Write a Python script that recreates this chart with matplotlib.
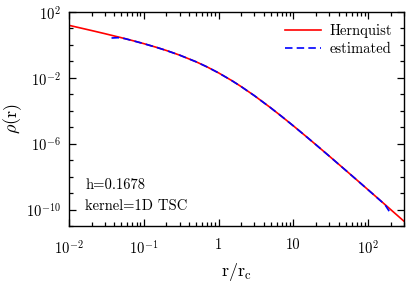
import matplotlib
matplotlib.use("Agg")
import matplotlib.pyplot as plt
from matplotlib.ticker import FixedLocator, LogLocator, NullFormatter

plt.rcParams['font.family'] = ['cmr10', 'DejaVu Serif']
plt.rcParams['mathtext.fontset'] = 'cm'
plt.rcParams['axes.formatter.use_mathtext'] = True

# Hernquist profile (r, log10 rho)
r_hern = [0.01, 0.02, 0.03, 0.05, 0.07, 0.1, 0.15, 0.2, 0.3, 0.5, 0.7, 1.0, 1.5, 2.0,
          3.0, 5.0, 7.0, 10.0, 15.0, 20.0, 30.0, 50.0, 70.0, 100.0, 150.0, 200.0, 300.0]
logrho_hern = [1.19, 0.875, 0.686, 0.439, 0.269, 0.078, -0.156, -0.337, -0.617, -1.025,
               -1.335, -1.701, -2.168, -2.531, -3.081, -3.832, -4.353, -4.922, -5.587,
               -6.066, -6.749, -7.620, -8.197, -8.811, -9.511, -10.009, -10.711]

# estimated profile
r_est = [0.037, 0.045, 0.055, 0.07, 0.1, 0.15, 0.2, 0.3, 0.5, 0.7, 1.0, 1.5, 2.0, 3.0,
         5.0, 7.0, 10.0, 15.0, 20.0, 30.0, 50.0, 70.0, 100.0, 150.0, 170.0, 190.0]
logrho_est = [0.42, 0.44, 0.39, 0.266, 0.076, -0.158, -0.338, -0.618, -1.026, -1.336,
              -1.702, -2.169, -2.532, -3.082, -3.833, -4.354, -4.923, -5.588, -6.067,
              -6.750, -7.621, -8.198, -8.812, -9.515, -9.76, -10.1]

xticks = [1e-2, 1e-1, 1, 10, 1e2]
xticklabels = [r'$10^{-2}$', r'$10^{-1}$', '1', '10', r'$10^{2}$']
yticks = [1e2, 1e-2, 1e-6, 1e-10]
yticklabels = [r'$10^{2}$', r'$10^{-2}$', r'$10^{-6}$', r'$10^{-10}$']

fig = plt.figure(figsize=(4.15, 2.81), dpi=100)
ax = fig.add_axes([69/415, 1 - 226/281, 335/415, 214/281])

ax.plot(r_hern, [10**v for v in logrho_hern], color='red', lw=1.2, label='Hernquist')
ax.plot(r_est, [10**v for v in logrho_est], color='blue', lw=1.2,
        dashes=(4.5, 2.5), label='estimated')

ax.set_xscale('log')
ax.set_yscale('log')
ax.set_xlim(1e-2, 300)
ax.set_ylim(1e-11, 1e2)

ax.xaxis.set_major_locator(FixedLocator(xticks))
ax.set_xticklabels(xticklabels)
ax.xaxis.set_minor_locator(LogLocator(base=10, subs=range(2, 10), numticks=20))
ax.xaxis.set_minor_formatter(NullFormatter())
ax.yaxis.set_major_locator(FixedLocator(yticks))
ax.set_yticklabels(yticklabels)
ax.yaxis.set_minor_locator(FixedLocator([10.0**k for k in range(-11, 3)]))
ax.yaxis.set_minor_formatter(NullFormatter())

ax.tick_params(which='both', direction='in', top=True, right=True, labelsize=10.5, width=0.9)
ax.tick_params(which='major', length=5, pad=6)
ax.tick_params(axis='x', which='major', pad=9)
ax.tick_params(which='minor', length=2.8)
for s in ax.spines.values():
    s.set_linewidth(1.0)

ax.set_xlabel(r'$\mathrm{r/r_c}$', fontsize=13, labelpad=3)
ax.set_ylabel(r'$\rho(\mathrm{r})$', fontsize=13, labelpad=1)

ax.text(0.048, 0.19, 'h=0.1678', transform=ax.transAxes, fontsize=10.5, va='center')
ax.text(0.048, 0.095, 'kernel=1D TSC', transform=ax.transAxes, fontsize=10.5, va='center')

ax.legend(loc='upper right', frameon=False, fontsize=10.5, handlelength=2.5,
          borderaxespad=0.4, labelspacing=0.3, handletextpad=0.6)

fig.savefig('out.png', dpi=100)
